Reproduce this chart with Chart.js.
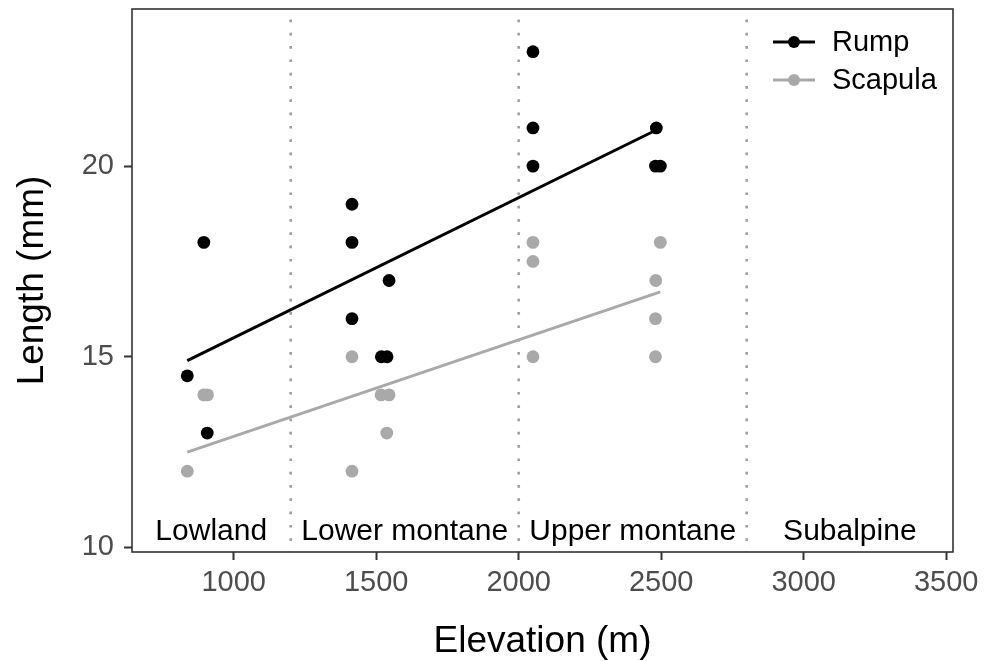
<!DOCTYPE html>
<html>
<head>
<meta charset="utf-8">
<script src="https://cdn.jsdelivr.net/npm/chart.js@4/dist/chart.umd.min.js"></script>
<style>
  body { margin: 0; background: #fff; }
  #wrap { width: 994px; height: 661px; }
</style>
</head>
<body>
<div id="wrap"><canvas id="myChart" width="994" height="661"></canvas></div>
<script>
// values
const rumpElev = [837, 895, 907, 1415, 1415, 1415, 1518, 1538, 1545, 2050, 2050, 2050, 2480, 2483, 2497];
const rumpLen = [14.5, 18, 13, 19, 18, 16, 15, 15, 17, 23, 21, 20, 20, 21, 20];
const scapElev = [837, 895, 908, 1415, 1415, 1517, 1545, 1537, 2050, 2050, 2050, 2480, 2480, 2481, 2497];
const scapLen = [12, 14, 14, 15, 12, 14, 14, 13, 18, 17.5, 15, 15, 16, 17, 18];

// fitted lines (end points)
const fitElev = [837, 2497];
const rumpFit = [14.9, 21.0];
const scapFit = [12.5, 16.7];

const zoneBreaks = [1200, 2000, 2800];
const zoneNames = ['Lowland', 'Lower montane', 'Upper montane', 'Subalpine'];
const zoneCentres = [921, 1600, 2400, 3162];
const zoneLabelY = 10.2;

const xTicks = [1000, 1500, 2000, 2500, 3000, 3500];
const yTicks = [10, 15, 20];

const RUMP = '#000000';
const SCAP = '#a9a9a9';
const FONT = '"Liberation Sans", Arial, sans-serif';

function pts(xs, ys) {
    return xs.map((x, i) => ({x: x, y: ys[i]}));
}

// dotted zone lines + zone names
const zonePlugin = {
    id: 'zones',
    beforeDatasetsDraw(chart) {
        const ctx = chart.ctx;
        const area = chart.chartArea;
        const xs = chart.scales.x;
        ctx.save();
        ctx.strokeStyle = '#a0a0a0';
        ctx.lineWidth = 2.7;
        ctx.setLineDash([2.7, 10.6]);
        zoneBreaks.forEach(b => {
            const px = xs.getPixelForValue(b);
            ctx.beginPath();
            ctx.moveTo(px, area.top + 10.5);
            ctx.lineTo(px, area.bottom);
            ctx.stroke();
        });
        ctx.restore();
    },
    afterDatasetsDraw(chart) {
        const ctx = chart.ctx;
        const xs = chart.scales.x;
        const ys = chart.scales.y;
        ctx.save();
        ctx.fillStyle = '#000';
        ctx.font = '30px ' + FONT;
        ctx.textAlign = 'center';
        ctx.textBaseline = 'alphabetic';
        zoneNames.forEach((n, i) => {
            ctx.fillText(n, xs.getPixelForValue(zoneCentres[i]), ys.getPixelForValue(zoneLabelY));
        });
        ctx.restore();
    }
};

// panel border and legend
const framePlugin = {
    id: 'frame',
    afterDraw(chart) {
        const ctx = chart.ctx;
        const a = chart.chartArea;
        ctx.save();
        ctx.strokeStyle = '#333333';
        ctx.lineWidth = 1.6;
        ctx.strokeRect(a.left, a.top, a.right - a.left, a.bottom - a.top);

        const items = [['Rump', RUMP], ['Scapula', SCAP]];
        ctx.font = '29px ' + FONT;
        ctx.textBaseline = 'middle';
        ctx.textAlign = 'left';
        items.forEach((it, i) => {
            const y = 42 + i * 38;
            ctx.strokeStyle = it[1];
            ctx.fillStyle = it[1];
            ctx.lineWidth = 3;
            ctx.beginPath();
            ctx.moveTo(773, y);
            ctx.lineTo(815, y);
            ctx.stroke();
            ctx.beginPath();
            ctx.arc(794, y, 6, 0, Math.PI * 2);
            ctx.fill();
            ctx.fillStyle = '#000';
            ctx.fillText(it[0], 832, y + 1);
        });
        ctx.restore();
    }
};

const ctx = document.getElementById('myChart').getContext('2d');
new Chart(ctx, {
    data: {
        datasets: [
            {
                type: 'line',
                label: 'Scapula fit',
                data: pts(fitElev, scapFit),
                borderColor: SCAP,
                borderWidth: 3,
                pointRadius: 0
            },
            {
                type: 'line',
                label: 'Rump fit',
                data: pts(fitElev, rumpFit),
                borderColor: RUMP,
                borderWidth: 3,
                pointRadius: 0
            },
            {
                type: 'scatter',
                label: 'Scapula',
                data: pts(scapElev, scapLen),
                backgroundColor: SCAP,
                borderWidth: 0,
                pointRadius: 6.4
            },
            {
                type: 'scatter',
                label: 'Rump',
                data: pts(rumpElev, rumpLen),
                backgroundColor: RUMP,
                borderWidth: 0,
                pointRadius: 6.4
            }
        ]
    },
    options: {
        responsive: false,
        animation: false,
        layout: { padding: { top: 9, right: 41, left: 0, bottom: 0 } },
        plugins: {
            legend: { display: false },
            tooltip: { enabled: false }
        },
        scales: {
            x: {
                type: 'linear',
                min: 643,
                max: 3524,
                afterBuildTicks: s => { s.ticks = xTicks.map(v => ({value: v})); },
                afterFit: s => { s.height = 109; s.paddingLeft = 0; s.paddingRight = 0; },
                border: { display: false },
                grid: { drawOnChartArea: false, tickLength: 8, tickWidth: 2, tickColor: '#333333' },
                ticks: {
                    color: '#4d4d4d',
                    padding: 6,
                    font: { family: FONT, size: 29 },
                    callback: v => String(v)
                },
                title: {
                    display: true,
                    text: 'Elevation (m)',
                    color: '#000',
                    font: { family: FONT, size: 37, lineHeight: 1 },
                    padding: { top: 0, bottom: 1 }
                }
            },
            y: {
                type: 'linear',
                min: 9.88,
                max: 24.12,
                afterBuildTicks: s => { s.ticks = yTicks.map(v => ({value: v})); },
                afterFit: s => { s.width = 132; s.paddingTop = 0; s.paddingBottom = 0; },
                border: { display: false },
                grid: { drawOnChartArea: false, tickLength: 8, tickWidth: 2, tickColor: '#333333' },
                ticks: {
                    color: '#4d4d4d',
                    padding: 10,
                    font: { family: FONT, size: 29 },
                    callback: v => String(v)
                },
                title: {
                    display: true,
                    text: 'Length (mm)',
                    color: '#000',
                    font: { family: FONT, size: 37, lineHeight: 1 },
                    padding: { top: 14, bottom: 0 }
                }
            }
        }
    },
    plugins: [zonePlugin, framePlugin]
});
</script>
</body>
</html>
